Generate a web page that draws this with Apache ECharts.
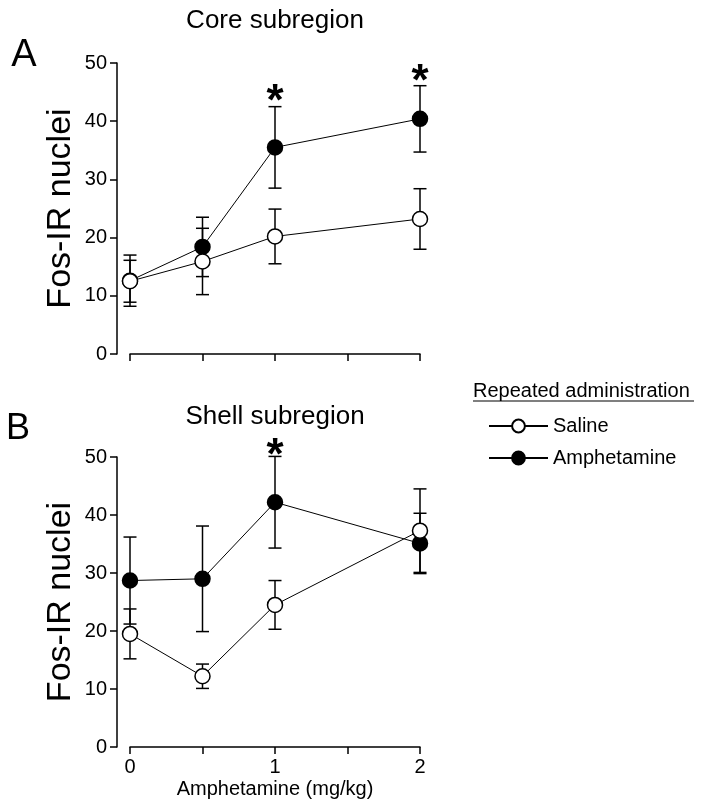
<!DOCTYPE html>
<html>
<head>
<meta charset="utf-8">
<script src="https://cdn.jsdelivr.net/npm/echarts@6/dist/echarts.min.js"></script>
<style>
html,body{margin:0;padding:0;background:#fff;}
#chart{width:702px;height:810px;}
</style>
</head>
<body>
<div id="chart"></div>
<script>
// ---- data ----
var doses = [0, 0.5, 1, 2];
var xTicks = [0, 1, 2];
var coreSaline = [12.5, 15.9, 20.2, 23.2];
var coreSalineErr = [3.6, 5.7, 4.7, 5.2];
var coreAmph = [12.6, 18.4, 35.5, 40.4];
var coreAmphErr = [4.4, 5.1, 7.0, 5.7];
var shellSaline = [19.5, 12.2, 24.5, 37.3];
var shellSalineErr = [4.3, 2.1, 4.2, 7.2];
var shellAmph = [28.7, 29.0, 42.2, 35.1];
var shellAmphErr = [7.5, 9.1, 7.9, 5.2];
var coreStarX = [1, 2];
var coreStarY = [44.5, 48.0];
var shellStarX = [1];
var shellStarY = [51.4];

var FONT = 'Liberation Sans, Arial, Helvetica, sans-serif';

function pts(xs, ys) { return xs.map(function (x, i) { return [x, ys[i]]; }); }
function errPts(xs, ys, es) { return xs.map(function (x, i) { return [x, ys[i] - es[i], ys[i] + es[i]]; }); }

function errRender(params, api) {
  var x = api.value(0), lo = api.value(1), hi = api.value(2);
  var p1 = api.coord([x, hi]), p2 = api.coord([x, lo]);
  var w = 6.5;
  var st = { stroke: '#000', lineWidth: 1.5 };
  return { type: 'group', children: [
    { type: 'line', shape: { x1: p1[0], y1: p1[1], x2: p2[0], y2: p2[1] }, style: st },
    { type: 'line', shape: { x1: p1[0] - w, y1: p1[1], x2: p1[0] + w, y2: p1[1] }, style: st },
    { type: 'line', shape: { x1: p2[0] - w, y1: p2[1], x2: p2[0] + w, y2: p2[1] }, style: st }
  ]};
}
function starRender(params, api) {
  var p = api.coord([api.value(0), api.value(1)]);
  return { type: 'text', x: p[0], y: p[1] + 8, style: { text: '*', fontSize: 44, fontWeight: 'bold', fontFamily: FONT, textAlign: 'center', textVerticalAlign: 'middle', fill: '#000' } };
}

function makeX(idx, showLabels) {
  return {
    type: 'value', gridIndex: idx, min: 0, max: 2, interval: 0.5,
    axisLine: { show: true, onZero: false, lineStyle: { color: '#000', width: 1.5 } },
    axisTick: { show: true, inside: false, length: 7, lineStyle: { color: '#000', width: 1.5 } },
    splitLine: { show: false },
    axisLabel: { show: showLabels, color: '#000', fontSize: 20, fontFamily: FONT, margin: 10,
      formatter: function (v) { return xTicks.indexOf(v) >= 0 ? String(v) : ''; } },
    name: showLabels ? 'Amphetamine (mg/kg)' : '', nameLocation: 'middle', nameGap: 32,
    nameTextStyle: { color: '#000', fontSize: 20, fontFamily: FONT }
  };
}
function makeY(idx) {
  return {
    type: 'value', gridIndex: idx, min: 0, max: 50, interval: 10, offset: 13,
    axisLine: { show: true, onZero: false, lineStyle: { color: '#000', width: 1.5 } },
    axisTick: { show: true, inside: false, length: 7, lineStyle: { color: '#000', width: 1.5 } },
    splitLine: { show: false },
    axisLabel: { color: '#000', fontSize: 20, fontFamily: FONT, margin: 10 },
    name: 'Fos-IR nuclei', nameLocation: 'middle', nameGap: 39, nameRotate: 90,
    nameTextStyle: { color: '#000', fontSize: 34, fontFamily: FONT }
  };
}
function lineSeries(name, idx, data, filled, z) {
  return {
    type: 'line', name: name, xAxisIndex: idx, yAxisIndex: idx, data: data,
    symbol: 'circle', symbolSize: 15, showSymbol: true, z: z,
    lineStyle: { color: '#000', width: 1 },
    itemStyle: { color: filled ? '#000' : '#fff', borderColor: '#000', borderWidth: 1.5 },
    emphasis: { disabled: true }, animation: false
  };
}
function errSeries(idx, data) {
  return { type: 'custom', xAxisIndex: idx, yAxisIndex: idx, data: data, renderItem: errRender,
    encode: { x: 0, y: [1, 2] }, clip: false, z: 1, silent: true, animation: false };
}
function starSeries(idx, data) {
  return { type: 'custom', xAxisIndex: idx, yAxisIndex: idx, data: data, renderItem: starRender,
    encode: { x: 0, y: 1 }, clip: false, z: 5, silent: true, animation: false };
}

var chart = echarts.init(document.getElementById('chart'), null, { renderer: 'canvas' });
chart.setOption({
  backgroundColor: '#fff',
  animation: false,
  grid: [
    { left: 130, top: 63, width: 290, height: 291 },
    { left: 130, top: 457, width: 290, height: 290 }
  ],
  xAxis: [makeX(0, false), makeX(1, true)],
  yAxis: [makeY(0), makeY(1)],
  legend: {
    data: ['Saline', 'Amphetamine'], orient: 'vertical', left: 483, top: 411,
    itemWidth: 59, itemHeight: 16, itemGap: 12,
    textStyle: { color: '#000', fontSize: 20, fontFamily: FONT }, selectedMode: false
  },
  graphic: [
    { type: 'text', x: 275, y: 21, style: { text: 'Core subregion', fontSize: 26, fontFamily: FONT, fill: '#000', textAlign: 'center', textVerticalAlign: 'middle' } },
    { type: 'text', x: 275, y: 417, style: { text: 'Shell subregion', fontSize: 26, fontFamily: FONT, fill: '#000', textAlign: 'center', textVerticalAlign: 'middle' } },
    { type: 'text', x: 24, y: 56, style: { text: 'A', fontSize: 38, fontFamily: FONT, fill: '#000', textAlign: 'center', textVerticalAlign: 'middle' } },
    { type: 'text', x: 18, y: 429, style: { text: 'B', fontSize: 36, fontFamily: FONT, fill: '#000', textAlign: 'center', textVerticalAlign: 'middle' } },
    { type: 'text', x: 473, y: 391, style: { text: 'Repeated administration', fontSize: 20, fontFamily: FONT, fill: '#000', textAlign: 'left', textVerticalAlign: 'middle' } },
    { type: 'line', shape: { x1: 473, y1: 401, x2: 694, y2: 401 }, style: { stroke: '#000', lineWidth: 1.2 } }
  ],
  series: [
    errSeries(0, errPts(doses, coreAmph, coreAmphErr)),
    errSeries(0, errPts(doses, coreSaline, coreSalineErr)),
    lineSeries('Amphetamine', 0, pts(doses, coreAmph), true, 3),
    lineSeries('Saline', 0, pts(doses, coreSaline), false, 4),
    starSeries(0, pts(coreStarX, coreStarY)),
    errSeries(1, errPts(doses, shellAmph, shellAmphErr)),
    errSeries(1, errPts(doses, shellSaline, shellSalineErr)),
    lineSeries('Amphetamine', 1, pts(doses, shellAmph), true, 3),
    lineSeries('Saline', 1, pts(doses, shellSaline), false, 4),
    starSeries(1, pts(shellStarX, shellStarY))
  ]
});
</script>
</body>
</html>
